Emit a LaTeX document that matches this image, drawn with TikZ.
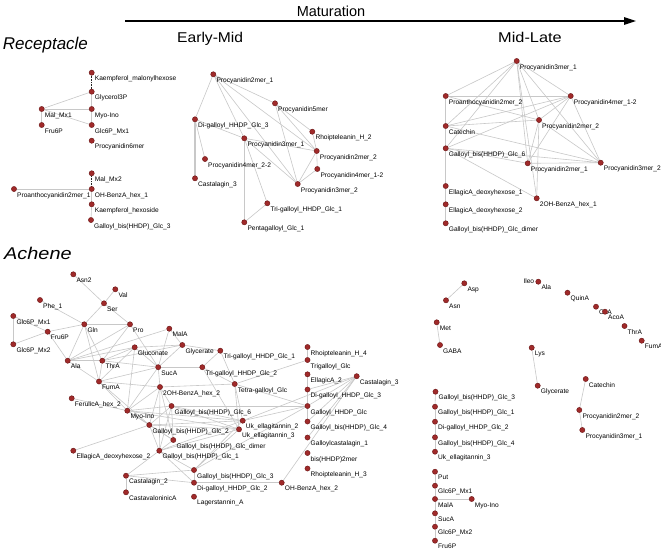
\documentclass[tikz,border=0pt]{standalone}
\usepackage{fontspec}
\setmainfont{Liberation Sans}
\usetikzlibrary{arrows.meta,backgrounds}
\definecolor{nodefill}{RGB}{160,42,42}
\definecolor{nodeline}{RGB}{105,20,20}
\definecolor{edgegray}{RGB}{200,200,200}
\tikzset{
 pt/.style={circle,fill=nodefill,draw=nodeline,line width=0.4pt,minimum size=5.2pt,inner sep=0pt},
 lbl/.style={anchor=base west,inner sep=0pt,font=\fontsize{6.6}{7}\selectfont},
 txt/.style={anchor=base west,inner sep=0pt,font=\fontsize{6.6}{7}\selectfont},
 ed/.style={draw=edgegray,line width=0.6pt},
 dotl/.style={draw=black!85,line width=0.9pt,dash pattern=on 0.8pt off 0.8pt},
 ttl/.style={font=\fontsize{17}{20}\selectfont\itshape,anchor=base west,inner sep=0pt},
 hdr/.style={font=\fontsize{14.2}{16}\selectfont,anchor=base west,inner sep=0pt},
}
\newcommand\nd[4]{\node[pt] (#1) at (#2,#3) {};\node[lbl] (#1-l) at (#2+3,#3+8.2) {#4};}
\begin{document}
\begin{tikzpicture}[x=1pt,y=-1pt]
\useasboundingbox (0,0) rectangle (661,550);
% headings
\node[font=\fontsize{14.5}{17}\selectfont,anchor=base,inner sep=0pt] (mat) at (331,16) {Maturation};
\coordinate (arrS) at (125,21);
\coordinate (arrE) at (636,21);
\draw[line width=1.2pt,-{Triangle[length=12pt,width=7.5pt]}] (arrS) -- (arrE);
\node[hdr] (em) at (177,42.3) {\scalebox{1.1}[1]{Early-Mid}};
\node[hdr] (ml) at (498,42.3) {\scalebox{1.15}[1]{Mid-Late}};
\node[ttl] (rec) at (2.7,49) {Receptacle};
\node[ttl] (ach) at (4,259.3) {\scalebox{1.17}[1]{Achene}};

% Receptacle, early
\nd{ra-kmh}{91.7}{72.7}{Kaempferol\_malonylhexose}
\nd{ra-g3p}{91.7}{91.7}{Glycerol3P}
\nd{ra-mal1}{41.7}{109}{Mal\_Mx1}
\nd{ra-myo}{91.7}{109}{Myo-Ino}
\nd{ra-fru}{41.7}{125}{Fru6P}
\nd{ra-glc1}{91.7}{125}{Glc6P\_Mx1}
\nd{ra-p6}{91.7}{140.7}{Procyanidin6mer}
\nd{ra-mal2}{91.7}{173.3}{Mal\_Mx2}
\nd{ra-ohb}{91.7}{189}{OH-BenzA\_hex\_1}
\nd{ra-pa2}{14}{189}{Proanthocyanidin2mer\_1}
\nd{ra-kh}{91.7}{204.3}{Kaempferol\_hexoside}
\nd{ra-gb3}{91}{220}{Galloyl\_bis(HHDP)\_Glc\_3}

% Receptacle, early-mid
\nd{rb-p21}{213.3}{74.3}{Procyanidin2mer\_1}
\nd{rb-p5}{275}{103.3}{Procyanidin5mer}
\nd{rb-dg3}{195}{119.3}{Di-galloyl\_HHDP\_Glc\_3}
\nd{rb-rh2}{312.3}{131.7}{Rhoipteleanin\_H\_2}
\nd{rb-p31}{244.3}{138.3}{Procyanidin3mer\_1}
\nd{rb-p22}{316.7}{151}{Procyanidin2mer\_2}
\nd{rb-p422}{205}{159}{Procyanidin4mer\_2-2}
\nd{rb-p412}{317.3}{169}{Procyanidin4mer\_1-2}
\nd{rb-cas3}{195}{178.3}{Castalagin\_3}
\nd{rb-p32}{297.7}{184}{Procyanidin3mer\_2}
\nd{rb-tg1}{267.3}{203.3}{Tri-galloyl\_HHDP\_Glc\_1}
\nd{rb-pg1}{244.3}{222.3}{Pentagalloyl\_Glc\_1}

% Receptacle, mid-late
\nd{rc-p31}{516.7}{61}{Procyanidin3mer\_1}
\nd{rc-pa22}{445.7}{96}{Proanthocyanidin2mer\_2}
\nd{rc-p412}{570.7}{96}{Procyanidin4mer\_1-2}
\nd{rc-p22}{539}{120}{Procyanidin2mer\_2}
\nd{rc-cat}{445.7}{126}{Catechin}
\nd{rc-gb6}{445.7}{148.3}{Galloyl\_bis(HHDP)\_Glc\_6}
\nd{rc-p21}{527.7}{163.3}{Procyanidin2mer\_1}
\nd{rc-p32}{600.7}{162.7}{Procyanidin3mer\_2}
\nd{rc-ed1}{445.7}{186}{EllagicA\_deoxyhexose\_1}
\nd{rc-oh2}{536.7}{198.3}{2OH-BenzA\_hex\_1}
\nd{rc-ed2}{445.7}{204.3}{EllagicA\_deoxyhexose\_2}
\nd{rc-gbd}{445.7}{223.3}{Galloyl\_bis(HHDP)\_Glc\_dimer}

% Achene, early-mid
\nd{al-asn2}{73.3}{274.3}{Asn2}
\nd{al-val}{115.3}{289.3}{Val}
\nd{al-phe}{40}{300}{Phe\_1}
\nd{al-ser}{104}{303.3}{Ser}
\nd{al-g1}{13.3}{316}{Glc6P\_Mx1}
\nd{al-gln}{84.3}{324.3}{Gln}
\nd{al-pro}{130}{324.3}{Pro}
\nd{al-mal}{169.3}{328.7}{MalA}
\nd{al-fru}{47.7}{331.7}{Fru6P}
\nd{al-g2}{13.3}{344.3}{Glc6P\_Mx2}
\nd{al-glyc}{182.3}{345}{Glycerate}
\nd{al-glcn}{134.7}{347.3}{Gluconate}
\nd{al-rh4}{307.5}{347}{Rhoipteleanin\_H\_4}
\nd{al-tg1}{220.3}{350.7}{Tri-galloyl\_HHDP\_Glc\_1}
\nd{al-ala}{67.7}{360.7}{Ala}
\nd{al-thr}{102.3}{360.7}{ThrA}
\nd{al-tgg}{307.5}{360}{Trigalloyl\_Glc}
\nd{al-suc}{158.2}{367.2}{SucA}
\nd{al-tg2}{202.3}{367.2}{Tri-galloyl\_HHDP\_Glc\_2}
\nd{al-ea2}{307.5}{374.3}{EllagicA\_2}
\nd{al-cas3}{356.7}{376.2}{Castalagin\_3}
\nd{al-fum}{99}{381.5}{FumA}
\nd{al-tetra}{234.7}{384}{Tetra-galloyl\_Glc}
\nd{al-oh2}{160}{387}{2OH-BenzA\_hex\_2}
\nd{al-dg3}{307.5}{389.5}{Di-galloyl\_HHDP\_Glc\_3}
\nd{al-fer}{71.7}{398.3}{FerulicA\_hex\_2}
\nd{al-gb6}{171.5}{406}{Galloyl\_bis(HHDP)\_Glc\_6}
\nd{al-ghg}{307.5}{406}{Galloyl\_HHDP\_Glc}
\nd{al-myo}{127.3}{410.7}{Myo-Ino}
\nd{al-uk2}{242.7}{420.7}{Uk\_ellagitannin\_2}
\nd{al-gb4}{307.5}{421.5}{Galloyl\_bis(HHDP)\_Glc\_4}
\nd{al-gb2}{149.3}{425}{Galloyl\_bis(HHDP)\_Glc\_2}
\nd{al-uk3}{239}{429.3}{Uk\_ellagitannin\_3}
\nd{al-gc1}{307.5}{437.5}{Galloylcastalagin\_1}
\nd{al-gbd}{173.3}{440}{Galloyl\_bis(HHDP)\_Glc\_dimer}
\nd{al-ed2}{73.3}{450.7}{EllagicA\_deoxyhexose\_2}
\nd{al-gb1}{159.3}{450.7}{Galloyl\_bis(HHDP)\_Glc\_1}
\nd{al-bis}{307.5}{453}{bis(HHDP)2mer}
\nd{al-rh3}{307.5}{468.5}{Rhoipteleanin\_H\_3}
\nd{al-gb3}{194}{470}{Galloyl\_bis(HHDP)\_Glc\_3}
\nd{al-cas2}{126}{475.7}{Castalagin\_2}
\nd{al-dg2}{194}{482.7}{Di-galloyl\_HHDP\_Glc\_2}
\nd{al-ohb2}{281.7}{482.7}{OH-BenzA\_hex\_2}
\nd{al-cav}{126}{492.3}{CastavaloninicA}
\nd{al-lag}{194}{496.7}{Lagerstannin\_A}

% Achene, mid-late
\nd{ar-asp}{464.3}{283.3}{Asp}
\nd{ar-asn}{446}{300.3}{Asn}
\node[txt] (ar-ileo) at (523.3,283.2) {Ileo};
\nd{ar-ala}{538.3}{281.7}{Ala}
\nd{ar-quin}{567.5}{292.7}{QuinA}
\nd{ar-cit}{596}{306.7}{CitA}
\nd{ar-aco}{605}{311.7}{AcoA}
\nd{ar-thr}{624.5}{326}{ThrA}
\nd{ar-fum}{641.7}{340.7}{FumA}
\nd{ar-met}{436.7}{322.3}{Met}
\nd{ar-gaba}{440}{345}{GABA}
\nd{ar-lys}{531.7}{347.7}{Lys}
\nd{ar-glyc}{537.7}{385.7}{Glycerate}
\nd{ar-cat}{585.7}{379}{Catechin}
\nd{ar-p22}{579.3}{410}{Procyanidin2mer\_2}
\nd{ar-p31}{582.3}{430}{Procyanidin3mer\_1}
\nd{ar-gb3}{435.5}{391.7}{Galloyl\_bis(HHDP)\_Glc\_3}
\nd{ar-gb1}{435}{406.7}{Galloyl\_bis(HHDP)\_Glc\_1}
\nd{ar-dg2}{435}{421.7}{Di-galloyl\_HHDP\_Glc\_2}
\nd{ar-gb4}{435}{437.3}{Galloyl\_bis(HHDP)\_Glc\_4}
\nd{ar-uk3}{435}{451.7}{Uk\_ellagitannin\_3}
\nd{ar-put}{435}{471.7}{Put}
\nd{ar-g1}{435}{485.7}{Glc6P\_Mx1}
\nd{ar-mal}{435}{499}{MalA}
\nd{ar-myo}{471.7}{499}{Myo-Ino}
\nd{ar-suc}{435}{513.3}{SucA}
\nd{ar-g2}{435}{526.7}{Glc6P\_Mx2}
\nd{ar-fru}{435}{540.7}{Fru6P}

\begin{pgfonlayer}{background}
\fill[white] (0,0) rectangle (661,550);
% receptacle early
\draw[dotl] (ra-kmh) -- (ra-g3p);
\draw[dotl] (ra-mal2) -- (ra-ohb);
\foreach \a/\b in {ra-g3p/ra-mal1,ra-g3p/ra-myo,ra-mal1/ra-myo,ra-mal1/ra-fru,ra-mal1/ra-glc1,ra-myo/ra-glc1,ra-pa2/ra-ohb,ra-ohb/ra-kh,ra-kh/ra-gb3}
  \draw[ed] (\a) -- (\b);
% receptacle early-mid
\draw[ed,line width=1.1pt] (rb-dg3) -- (rb-cas3);
\foreach \a/\b in {rb-p21/rb-dg3,rb-p21/rb-p5,rb-p21/rb-p31,rb-p21/rb-p22,rb-p21/rb-p32,rb-dg3/rb-p422,rb-dg3/rb-p31,rb-p5/rb-rh2,rb-p5/rb-p32,rb-p5/rb-p22,rb-p31/rb-p22,rb-p31/rb-p32,rb-p31/rb-pg1,rb-p31/rb-tg1,rb-tg1/rb-pg1,rb-rh2/rb-p22,rb-p22/rb-p412,rb-p22/rb-p32,rb-p412/rb-p32}
  \draw[ed] (\a) -- (\b);
% receptacle mid-late
\foreach \a/\b in {rc-p31/rc-pa22,rc-p31/rc-cat,rc-p31/rc-gb6,rc-p31/rc-p412,rc-p31/rc-p22,rc-p31/rc-p21,rc-p31/rc-p32,rc-p31/rc-oh2,rc-pa22/rc-cat,rc-pa22/rc-p412,rc-pa22/rc-p22,rc-cat/rc-p412,rc-cat/rc-p22,rc-cat/rc-p32,rc-gb6/rc-p412,rc-gb6/rc-p21,rc-gb6/rc-p32,rc-gb6/rc-oh2,rc-p412/rc-p22,rc-p412/rc-p21,rc-p412/rc-p32,rc-p22/rc-p21,rc-p22/rc-p32,rc-p21/rc-p32,rc-p22/rc-oh2,rc-cat/rc-gb6,rc-gb6/rc-ed1,rc-ed1/rc-ed2,rc-ed2/rc-gbd}
  \draw[ed] (\a) -- (\b);
% achene early-mid
\foreach \a/\b in {al-asn2/al-ser,al-val/al-ser,al-ser/al-gln,al-ser/al-pro,al-phe/al-gln,al-g1/al-fru,al-g1/al-g2,al-g2/al-fru,al-fru/al-gln,al-fru/al-ala,al-gln/al-pro,al-gln/al-ala,al-gln/al-thr,al-gln/al-fum,al-pro/al-ala,al-pro/al-thr,al-pro/al-suc,al-ala/al-glcn,al-ala/al-thr,al-ala/al-fum,al-ala/al-mal,al-thr/al-glcn,al-thr/al-suc,al-thr/al-glyc,al-thr/al-fum,al-glcn/al-suc,al-glcn/al-glyc,al-glcn/al-fum,al-mal/al-glyc,al-mal/al-suc,al-glyc/al-suc,al-glyc/al-tg1,al-suc/al-tg2,al-suc/al-fum,al-suc/al-oh2,al-suc/al-myo,al-glcn/al-myo,al-tg1/al-tg2,al-tg1/al-tetra,al-tg2/al-tetra,al-tetra/al-tgg,al-tetra/al-ghg,al-tetra/al-oh2,al-rh4/al-tgg,al-ea2/al-dg3,al-dg3/al-ghg,al-cas3/al-dg3,al-cas3/al-ghg,al-cas3/al-gb4,al-cas3/al-gc1,al-cas3/al-ohb2,al-cas3/al-uk2,al-ghg/al-gb6,al-ghg/al-uk2,al-ghg/al-gb4,al-ghg/al-gb3,al-fer/al-myo,al-myo/al-fum,al-myo/al-oh2,al-myo/al-gb6,al-myo/al-uk2,al-myo/al-uk3,al-myo/al-gb2,al-myo/al-gbd,al-gb6/al-uk2,al-gb6/al-uk3,al-gb6/al-gb2,al-gb6/al-gb1,al-gb6/al-gbd,al-gb2/al-uk2,al-gb2/al-uk3,al-gb2/al-gbd,al-gb2/al-gb1,al-ed2/al-gb2,al-gb1/al-uk2,al-gb1/al-uk3,al-gb1/al-gbd,al-gb1/al-cas2,al-gb1/al-gb3,al-gb1/al-dg2,al-gb3/al-uk3,al-gb3/al-cas2,al-gb3/al-dg2,al-cas2/al-cav,al-cas2/al-dg2,al-ohb2/al-dg2,al-oh2/al-gb2,al-oh2/al-gb1,al-oh2/al-gb6,al-oh2/al-gbd,al-tetra/al-uk2,al-tetra/al-uk3,al-tg2/al-uk3,al-uk2/al-gb3,al-fum/al-oh2,al-fum/al-gb2}
  \draw[ed] (\a) -- (\b);
% achene mid-late
\foreach \a/\b in {ar-asp/ar-asn,ar-met/ar-gaba,ar-lys/ar-glyc,ar-cat/ar-p22,ar-p22/ar-p31,ar-mal/ar-myo,ar-gb3/ar-gb1,ar-gb1/ar-dg2,ar-dg2/ar-gb4,ar-gb4/ar-uk3,ar-put/ar-g1,ar-g1/ar-mal,ar-mal/ar-suc,ar-suc/ar-g2,ar-g2/ar-fru}
  \draw[ed] (\a) -- (\b);
\end{pgfonlayer}
\end{tikzpicture}
\end{document}
